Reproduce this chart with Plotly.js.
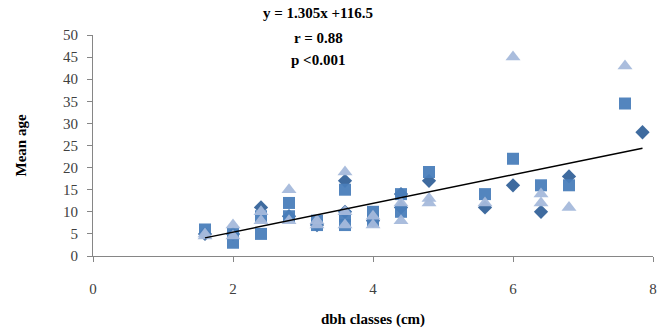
<!DOCTYPE html>
<html>
<head>
<meta charset="utf-8">
<script src="https://cdn.plot.ly/plotly-3.0.1.min.js"></script>
<style>html,body{margin:0;padding:0;background:#fff;}#chart{width:665px;height:329px;}</style>
</head>
<body>
<div id="chart"></div>
<script>
// Series 1: dark diamonds
const diamondX = [1.6, 2.0, 2.4, 2.8, 3.2, 3.6, 3.6, 4.0, 4.4, 4.4, 4.8, 5.6, 6.0, 6.4, 6.8, 7.85];
const diamondY = [5, 5, 11, 9, 7, 17, 10, 8, 14, 11, 17, 11, 16, 10, 18, 28];
// Series 2: medium-blue squares
const squareX = [1.6, 2.0, 2.0, 2.4, 2.4, 2.8, 2.8, 3.2, 3.2, 3.6, 3.6, 3.6, 4.0, 4.0, 4.4, 4.4, 4.8, 5.6, 6.0, 6.4, 6.8, 7.6];
const squareY = [6, 3, 5, 9, 5, 12, 9, 8, 7, 15, 9, 7, 10, 8, 14, 10, 19, 14, 22, 16, 16, 34.5];
// Series 3: light triangles
const triX = [1.6, 1.6, 2.0, 2.0, 2.4, 2.4, 2.8, 2.8, 3.2, 3.2, 3.6, 3.6, 3.6, 4.0, 4.0, 4.4, 4.4, 4.8, 4.8, 5.6, 6.0, 6.4, 6.4, 6.8, 7.6];
const triY = [5, 4.5, 7, 4.5, 8, 10, 15, 8, 8, 7, 19, 10, 7, 9, 7, 12, 8, 13, 12, 12, 45, 14, 12, 11, 43];
// Linear trend line endpoints
const trendX = [1.6, 7.85];
const trendY = [4.1, 24.4];
// Tick labels
const xTicks = [0, 2, 4, 6, 8];
const yTicks = [0, 5, 10, 15, 20, 25, 30, 35, 40, 45, 50];
const annotationLines = ["y = 1.305x +116.5", "r = 0.88", "p <0.001"];

const serif = "Liberation Serif, Times New Roman, serif";

const traces = [
  {x: diamondX, y: diamondY, type: 'scatter', mode: 'markers',
   marker: {symbol: 'diamond', size: 11, color: '#35639A', opacity: 0.95}},
  {x: squareX, y: squareY, type: 'scatter', mode: 'markers',
   marker: {symbol: 'square', size: 12, color: '#4A7EBB', opacity: 0.95}},
  {x: triX, y: triY, type: 'scatter', mode: 'markers',
   marker: {symbol: 'triangle-up', size: 13, color: '#A5B9DB', opacity: 0.95}},
  {x: trendX, y: trendY, type: 'scatter', mode: 'lines',
   line: {color: '#000000', width: 1.5}}
];

const axisCommon = {
  showgrid: false, zeroline: false, showline: true, linecolor: '#868686', linewidth: 1,
  ticks: 'outside', ticklen: 5, tickcolor: '#868686', tickwidth: 1,
  tickfont: {family: serif, size: 15, color: '#404040'}, fixedrange: true
};

const layout = {
  width: 665, height: 329,
  margin: {l: 93, r: 12, t: 35, b: 73},
  paper_bgcolor: '#ffffff', plot_bgcolor: '#ffffff',
  showlegend: false,
  xaxis: Object.assign({}, axisCommon, {
    range: [0, 8], tickvals: xTicks, ticktext: xTicks.map(String),
    ticklabelstandoff: 14,
    title: {text: '<b>dbh classes (cm)</b>', font: {family: serif, size: 15, color: '#000'}, standoff: 17}
  }),
  yaxis: Object.assign({}, axisCommon, {
    range: [0, 50], tickvals: yTicks, ticktext: yTicks.map(String),
    ticklabelstandoff: 6,
    title: {text: '<b>Mean age</b>', font: {family: serif, size: 15, color: '#000'}, standoff: 32}
  }),
  annotations: annotationLines.map((t, i) => ({
    text: '<b>' + t + '</b>', xref: 'paper', yref: 'paper',
    x: (318 - 93) / 560, y: 1 + (35 - [13, 38, 60][i]) / 221,
    xanchor: 'center', yanchor: 'middle', showarrow: false,
    font: {family: serif, size: 15, color: '#000'}
  }))
};

Plotly.newPlot('chart', traces, layout, {displayModeBar: false, staticPlot: true});
</script>
</body>
</html>
